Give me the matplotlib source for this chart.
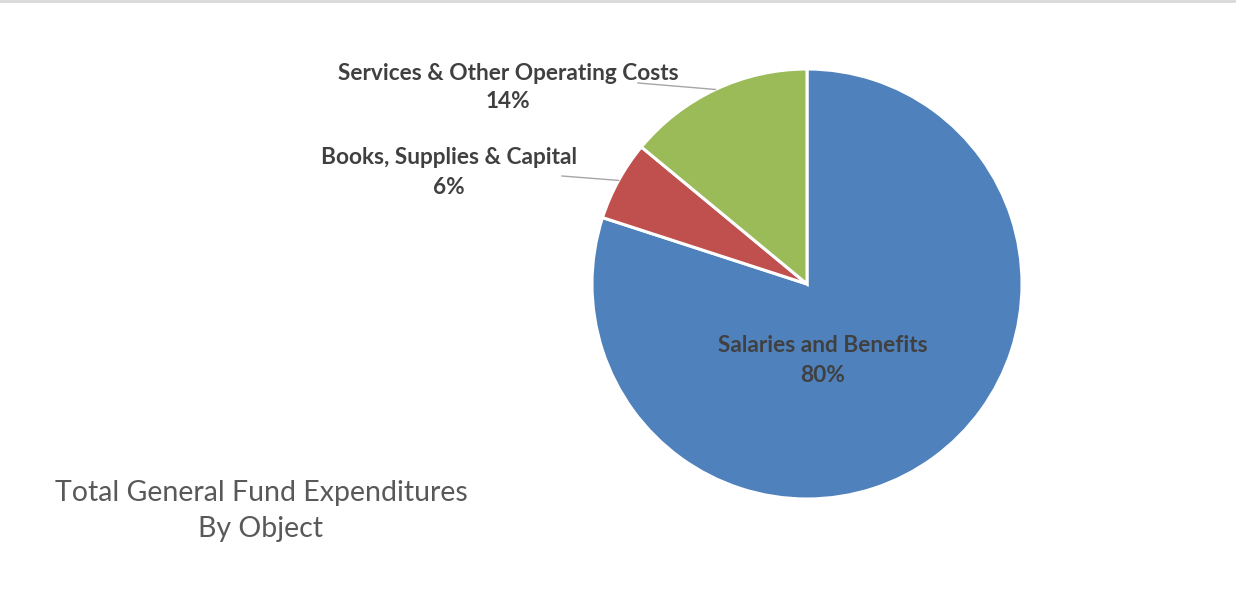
import numpy as np
import matplotlib.pyplot as plt
from matplotlib.lines import Line2D

categories = ["Salaries and Benefits", "Books, Supplies & Capital", "Services & Other Operating Costs"]
values = [80, 6, 14]
colors = ["#4F81BD", "#C0504D", "#9BBB59"]
title_lines = ["Total General Fund Expenditures", "By Object"]

W, H = 1236, 592
fig = plt.figure(figsize=(W / 100, H / 100), dpi=100)
ax = fig.add_axes([0, 0, 1, 1])

cx, cy, r = 807, H - 284, 215
wedges, _ = ax.pie(values, colors=colors, startangle=90, counterclock=False,
                   center=(cx, cy), radius=r, frame=True,
                   wedgeprops=dict(edgecolor="white", linewidth=2.2))
ax.set_xlim(0, W)
ax.set_ylim(0, H)
ax.set_aspect("equal")
ax.axis("off")

# top border line
ax.add_line(Line2D([0, W], [H - 1, H - 1], color="#d9d9d9", linewidth=2))

lab_color = "#404040"
font = "Lato"
fs = 16.3

# Salaries label inside
ax.text(823, H - 345, categories[0], ha="center", va="center", fontsize=fs,
        fontweight="bold", color=lab_color, family=font)
ax.text(823, H - 376, f"{values[0]}%", ha="center", va="center", fontsize=fs,
        fontweight="bold", color=lab_color, family=font)

# outside labels with leader lines
specs = {1: dict(x=449, y1=158, y2=187, lx=562, ly=176),
         2: dict(x=508, y1=73, y2=102, lx=638, ly=83)}
for i, s in specs.items():
    w = wedges[i]
    mid = np.deg2rad((w.theta1 + w.theta2) / 2)
    ex, ey = cx + r * np.cos(mid), cy + r * np.sin(mid)
    ax.text(s["x"], H - s["y1"], categories[i], ha="center", va="center", fontsize=fs,
            fontweight="bold", color=lab_color, family=font)
    ax.text(s["x"], H - s["y2"], f"{values[i]}%", ha="center", va="center", fontsize=fs,
            fontweight="bold", color=lab_color, family=font)
    ax.add_line(Line2D([s["lx"], ex], [H - s["ly"], ey],
                       color="#a6a6a6", linewidth=1))

ax.text(261, H - 493, title_lines[0], ha="center", va="center", fontsize=20.5,
        color="#595959", family=font)
ax.text(261, H - 529, title_lines[1], ha="center", va="center", fontsize=20.5,
        color="#595959", family=font)

fig.savefig("out.png", dpi=100)
